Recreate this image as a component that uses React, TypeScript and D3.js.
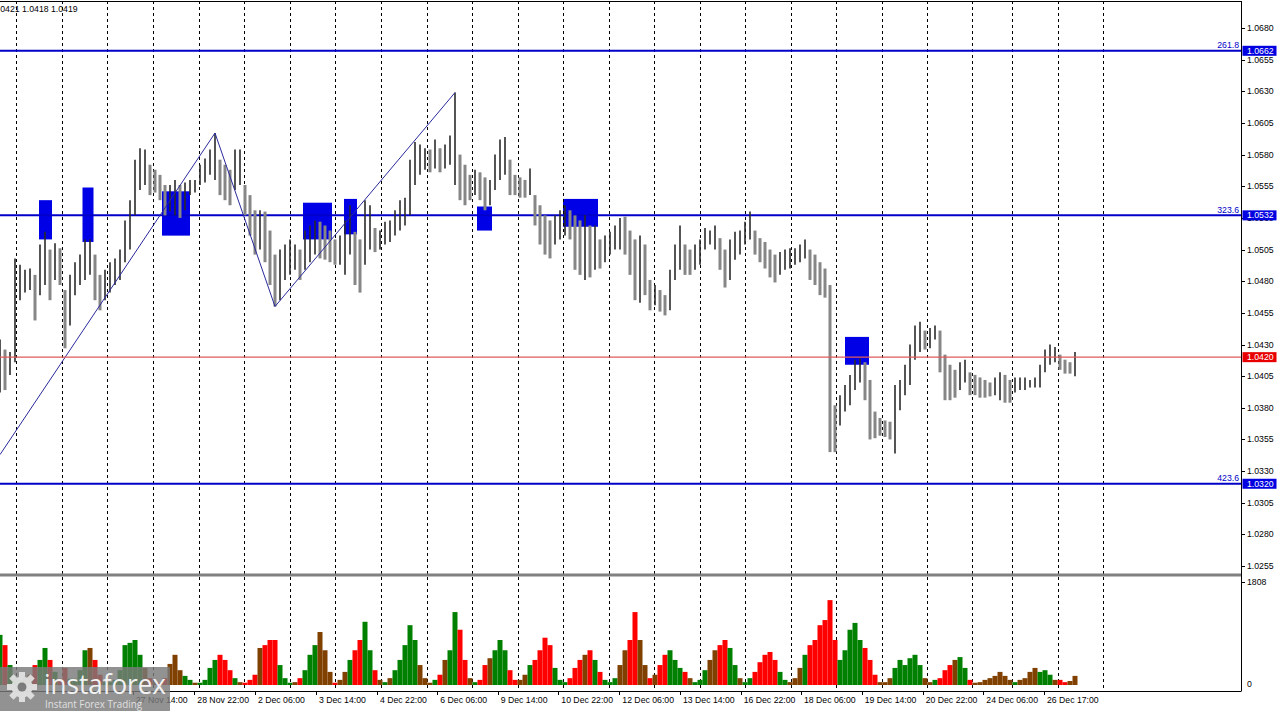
import React from "react";
import * as d3 from "d3";

// ---- data ----
const highs = [
  1.0434,1.0426,1.0424,1.0498,1.0493,1.0489,1.0490,1.0485,1.0509,1.0519,
  1.0505,1.0510,1.0506,1.0473,1.0485,1.0495,1.0501,1.0513,1.0513,1.0501,
  1.0485,1.0489,1.0495,1.0498,1.0505,1.0528,1.0544,1.0576,1.0585,1.0584,
  1.0572,1.0568,1.0564,1.0556,1.0556,1.0560,1.0556,1.0558,1.0560,1.0560,
  1.0572,1.0577,1.0584,1.0597,1.0576,1.0572,1.0568,1.0584,1.0584,1.0556,
  1.0548,1.0536,1.0536,1.0535,1.0520,1.0501,1.0505,1.0509,1.0513,1.0509,
  1.0505,1.0520,1.0524,1.0528,1.0527,1.0524,1.0520,1.0513,1.0516,1.0528,
  1.0540,1.0519,1.0513,1.0544,1.0540,1.0522,1.0520,1.0527,1.0528,1.0536,
  1.0544,1.0546,1.0576,1.0590,1.0588,1.0585,1.0584,1.0592,1.0585,1.0588,
  1.0595,1.0629,1.0580,1.0572,1.0564,1.0568,1.0566,1.0562,1.0560,1.0580,
  1.0592,1.0594,1.0576,1.0564,1.0562,1.0560,1.0569,1.0548,1.0540,1.0532,
  1.0528,1.0532,1.0536,1.0540,1.0536,1.0532,1.0528,1.0532,1.0524,1.0524,
  1.0513,1.0516,1.0519,1.0524,1.0530,1.0531,1.0520,1.0513,1.0516,1.0509,
  1.0481,1.0477,1.0473,1.0469,1.0489,1.0509,1.0524,1.0509,1.0505,1.0509,
  1.0513,1.0522,1.0520,1.0524,1.0514,1.0505,1.0513,1.0519,1.0520,1.0527,
  1.0535,1.0520,1.0514,1.0511,1.0505,1.0501,1.0503,1.0505,1.0506,1.0506,
  1.0509,1.0513,1.0505,1.0501,1.0495,1.0490,1.0477,1.0382,1.0390,1.0398,
  1.0406,1.0418,1.0419,1.0416,1.0402,1.0377,1.0372,1.0370,1.0369,1.0398,
  1.0402,1.0414,1.0430,1.0445,1.0448,1.0441,1.0443,1.0445,1.0441,1.0422,
  1.0414,1.0410,1.0416,1.0418,1.0408,1.0406,1.0404,1.0402,1.0400,1.0404,
  1.0408,1.0406,1.0402,1.0404,1.0404,1.0404,1.0402,1.0404,1.0414,1.0426,
  1.0430,1.0428,1.0422,1.0418,1.0416,1.0424,
];
const lows = [
  1.0392,1.0394,1.0406,1.0416,1.0465,1.0471,1.0473,1.0449,1.0469,1.0477,
  1.0465,1.0481,1.0477,1.0427,1.0445,1.0469,1.0477,1.0481,1.0485,1.0465,
  1.0457,1.0465,1.0471,1.0477,1.0481,1.0495,1.0505,1.0532,1.0552,1.0556,
  1.0548,1.0550,1.0544,1.0532,1.0535,1.0532,1.0530,1.0536,1.0548,1.0550,
  1.0556,1.0558,1.0564,1.0560,1.0548,1.0544,1.0540,1.0552,1.0556,1.0532,
  1.0516,1.0501,1.0505,1.0495,1.0477,1.0460,1.0465,1.0481,1.0485,1.0489,
  1.0481,1.0489,1.0495,1.0501,1.0498,1.0497,1.0495,1.0493,1.0493,1.0485,
  1.0501,1.0477,1.0471,1.0493,1.0505,1.0503,1.0505,1.0509,1.0511,1.0516,
  1.0520,1.0524,1.0532,1.0556,1.0564,1.0568,1.0566,1.0569,1.0566,1.0569,
  1.0572,1.0556,1.0544,1.0540,1.0544,1.0548,1.0544,1.0536,1.0540,1.0552,
  1.0560,1.0564,1.0548,1.0548,1.0546,1.0546,1.0548,1.0524,1.0509,1.0501,
  1.0498,1.0509,1.0513,1.0516,1.0513,1.0489,1.0485,1.0481,1.0483,1.0489,
  1.0490,1.0495,1.0501,1.0505,1.0505,1.0501,1.0485,1.0465,1.0463,1.0469,
  1.0457,1.0461,1.0456,1.0453,1.0457,1.0481,1.0489,1.0485,1.0485,1.0489,
  1.0493,1.0505,1.0509,1.0505,1.0489,1.0475,1.0481,1.0497,1.0501,1.0509,
  1.0513,1.0501,1.0495,1.0490,1.0483,1.0479,1.0485,1.0489,1.0490,1.0493,
  1.0495,1.0498,1.0481,1.0477,1.0469,1.0467,1.0345,1.0345,1.0366,1.0377,
  1.0382,1.0394,1.0400,1.0386,1.0355,1.0356,1.0358,1.0357,1.0355,1.0344,
  1.0378,1.0390,1.0398,1.0418,1.0424,1.0426,1.0427,1.0434,1.0408,1.0386,
  1.0386,1.0388,1.0394,1.0400,1.0390,1.0390,1.0388,1.0388,1.0389,1.0390,
  1.0386,1.0384,1.0384,1.0392,1.0394,1.0394,1.0396,1.0396,1.0396,1.0408,
  1.0414,1.0416,1.0410,1.0407,1.0407,1.0405,
];
const volumes = [
  880,700,350,140,
  90,110,180,350,440,650,440,230,110,
  300,110,110,260,610,650,440,180,50,
  50,90,260,700,740,790,530,300,120,
  50,40,120,370,530,260,160,90,40,
  40,90,300,440,530,440,260,120,50,
  40,90,180,650,700,790,790,350,120,
  40,50,120,260,530,700,930,610,230,
  40,90,230,440,610,790,1110,610,260,90,
  50,120,260,440,700,1050,790,350,120,
  40,90,180,440,610,1280,970,440,120,
  50,90,350,470,610,790,610,260,90,
  90,180,350,440,610,830,700,300,90,
  50,120,300,440,530,610,440,230,90,
  50,120,350,610,790,1280,790,350,120,
  180,350,530,610,440,300,230,120,50,
  90,260,440,610,700,790,650,350,120,
  50,120,230,400,530,580,440,230,90,
  50,120,300,530,700,790,1050,1140,1490,790,
  440,610,970,1090,790,650,440,180,50,
  50,120,300,440,350,470,530,350,120,
  50,90,120,260,350,440,490,300,90,
  40,50,90,120,160,230,160,90,
  50,90,120,230,300,230,260,180,90,
  90,50,70,160,
];
const priceTicks = [1.0680,1.0655,1.0630,1.0605,1.0580,1.0555,1.0530,1.0505,1.0480,1.0455,1.0430,1.0405,1.0380,1.0355,1.0330,1.0305,1.0280,1.0255];
const timeLabels = ["27 Nov 14:00","28 Nov 22:00","2 Dec 06:00","3 Dec 14:00","4 Dec 22:00","6 Dec 06:00","9 Dec 14:00","10 Dec 22:00","12 Dec 06:00","13 Dec 14:00","16 Dec 22:00","18 Dec 06:00","19 Dec 14:00","20 Dec 22:00","24 Dec 06:00","26 Dec 17:00"];
const timeLabelPos = [26.6,38.86,51,63.2,75.4,87.46,99.54,111.66,123.86,136,148.14,160.2,172.34,184.54,196.66,208.8];
const daySeparators = [3.26,12.4,21.48,30.6,39.72,48.8,57.96,67.08,76.2,85.32,94.4,103.52,112.6,121.72,130.8,139.92,149,158.12,167.2,176.32,185.4,194.4,202.4,211.6,220.6];
const levelPrices = [1.0662, 1.0532, 1.0320];
const levelNames = ["261.8", "323.6", "423.6"];
const bidPrice = 1.0420;
const zigzagIdx = [0, 43, 55, 91];
const zigzagPrice = [1.0343, 1.0597, 1.0460, 1.0629];
const boxStart = [7.8, 16.5, 32.4, 60.6, 68.8, 95.4, 112.6, 169];
const boxEnd = [10.4, 18.7, 38, 66.4, 71.4, 98.4, 119.6, 173.8];
const boxTop = [1.0544, 1.0554, 1.0551, 1.0542, 1.0545, 1.0539, 1.0545, 1.0436];
const boxBottom = [1.0513, 1.0511, 1.0516, 1.0513, 1.0517, 1.0520, 1.0523, 1.0414];
const headerText = "1.0421 1.0418 1.0419";
const volumeMax = 1808;

const FONT = "'Liberation Sans', Arial, sans-serif";

export default function App() {
  const W = 1280, H = 711;
  const plotRight = 1241;
  const volBottom = 691;
  const n = highs.length;
  const x = d3.scaleLinear().domain([0, n - 1]).range([0, 1075]);
  const y = d3.scaleLinear().domain([1.068, 1.0255]).range([28, 566.05]);
  const yv = d3.scaleLinear().domain([0, volumeMax]).range([685, 582]);

  const mids = highs.map((h, i) => (h + lows[i]) / 2);
  const dir = mids.map((m, i) => (i === 0 ? 1 : m - mids[i - 1]));

  const zz = d3.line<number>().x((d) => x(d)).y((_, i) => y(zigzagPrice[i]));
  const step = x(1) - x(0);

  return (
    <svg width={W} height={H} style={{ position: "absolute", left: 0, top: 0, background: "#fff" }}>
      <rect x={0} y={0} width={W} height={H} fill="#fff" />
      {/* signal boxes */}
      {boxStart.map((s, i) => (
        <rect key={"b" + i} x={x(s)} y={y(boxTop[i])} width={x(boxEnd[i]) - x(s)} height={y(boxBottom[i]) - y(boxTop[i])} fill="#0000e6" />
      ))}
      {/* grid */}
      {daySeparators.map((d, i) => (
        <line key={"g" + i} x1={Math.round(x(d)) + 0.5} x2={Math.round(x(d)) + 0.5} y1={1} y2={volBottom} stroke="#000" strokeWidth={1} strokeDasharray="3,3" />
      ))}
      {/* level lines */}
      {levelPrices.map((p, i) => (
        <line key={"l" + i} x1={0} x2={plotRight} y1={y(p)} y2={y(p)} stroke="#0000c8" strokeWidth={2} />
      ))}
      {/* price bars */}
      {highs.map((h, i) => (
        <line key={"p" + i} x1={x(i)} x2={x(i)} y1={y(h)} y2={y(lows[i])}
          stroke={dir[i] >= 0 ? "#2a2a2a" : "#868686"} strokeWidth={dir[i] >= 0 ? 1.6 : 3} />
      ))}
      {/* zigzag */}
      <path d={zz(zigzagIdx) || ""} fill="none" stroke="#2a2a9c" strokeWidth={1} />
      {/* bid line */}
      <line x1={0} x2={plotRight} y1={y(bidPrice)} y2={y(bidPrice)} stroke="#e05a5a" strokeWidth={1.3} />
      {/* volumes */}
      {volumes.map((v, i) => {
        const c = dir[i] > 0.0003 ? "#008000" : dir[i] < -0.0003 ? "#ff0000" : "#804000";
        return <rect key={"v" + i} x={x(i) - step / 2} y={yv(v)} width={step} height={yv(0) - yv(v)} fill={c} />;
      })}
      {/* separator & borders */}
      <line x1={0} x2={plotRight} y1={575} y2={575} stroke="#808080" strokeWidth={3} />
      <line x1={0} x2={plotRight + 0.5} y1={1.5} y2={1.5} stroke="#000" strokeWidth={1} />
      <line x1={plotRight + 0.5} x2={plotRight + 0.5} y1={1} y2={volBottom} stroke="#000" strokeWidth={1} />
      <line x1={0} x2={plotRight + 0.5} y1={volBottom + 0.5} y2={volBottom + 0.5} stroke="#000" strokeWidth={1} />
      {/* price axis */}
      {priceTicks.map((p, i) => (
        <g key={"t" + i}>
          <line x1={plotRight} x2={plotRight + 4} y1={Math.round(y(p)) + 0.5} y2={Math.round(y(p)) + 0.5} stroke="#000" />
          <text x={1247} y={y(p) + 3} fontFamily={FONT} fontSize={8.7} fill="#000">{p.toFixed(4)}</text>
        </g>
      ))}
      <line x1={plotRight} x2={plotRight + 4} y1={582.5} y2={582.5} stroke="#000" />
      <text x={1247} y={585} fontFamily={FONT} fontSize={8.7} fill="#000">{volumeMax}</text>
      <text x={1247} y={687} fontFamily={FONT} fontSize={8.7} fill="#000">0</text>
      {/* level names and highlighted labels */}
      {levelPrices.map((p, i) => (
        <g key={"ll" + i}>
          <text x={1239} y={y(p) - 2.5} textAnchor="end" fontFamily={FONT} fontSize={8.7} fill="#0000c8">{levelNames[i]}</text>
          <rect x={1242.5} y={y(p) - 5} width={34} height={10} fill="#0000e0" />
          <text x={1247} y={y(p) + 3} fontFamily={FONT} fontSize={8.7} fill="#fff">{p.toFixed(4)}</text>
        </g>
      ))}
      <rect x={1242.5} y={y(bidPrice) - 5} width={34} height={10} fill="#e80000" />
      <text x={1247} y={y(bidPrice) + 3} fontFamily={FONT} fontSize={8.7} fill="#fff">{bidPrice.toFixed(4)}</text>
      {/* time axis */}
      {timeLabels.map((t, i) => (
        <g key={"x" + i}>
          <line x1={Math.round(x(timeLabelPos[i])) + 0.5} x2={Math.round(x(timeLabelPos[i])) + 0.5} y1={volBottom} y2={volBottom + 4} stroke="#000" />
          <text x={x(timeLabelPos[i]) + 3} y={703} fontFamily={FONT} fontSize={8.7} fill="#000">{t}</text>
        </g>
      ))}
      {/* header */}
      <text x={-7} y={12} fontFamily={FONT} fontSize={8.7} fill="#000">{headerText}</text>
      {/* logo */}
      <g>
        <rect x={0} y={667} width={170} height={44} fill="#7a7a7a" opacity={0.82} />
        <g transform="translate(22,687)" fill="#e6e6e6" opacity={0.9}>
          {d3.range(8).map((k) => (
            <rect key={"gt" + k} x={-3} y={-15} width={6} height={7} transform={`rotate(${k * 45})`} />
          ))}
          <circle r={10.5} />
          <circle r={4.5} fill="#7a7a7a" />
        </g>
        <text x={44} y={694} fontFamily="'Open Sans', Lato, sans-serif" fontSize={28} fill="#f2f2f2" textLength={122} lengthAdjust="spacingAndGlyphs">instaforex</text>
        <text x={45} y={708} fontFamily="'Open Sans', Lato, sans-serif" fontSize={10} fill="#e0e0e0" textLength={97} lengthAdjust="spacingAndGlyphs">Instant Forex Trading</text>
      </g>
    </svg>
  );
}
